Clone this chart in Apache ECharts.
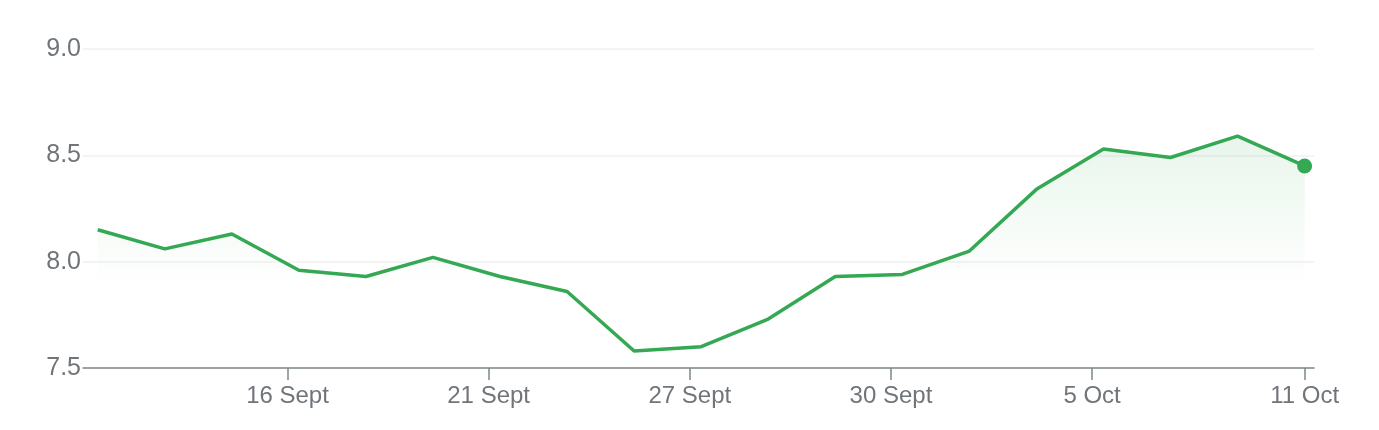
<!DOCTYPE html>
<html>
<head>
<meta charset="utf-8">
<script src="https://cdn.jsdelivr.net/npm/echarts@6/dist/echarts.min.js"></script>
<style>
  html, body { margin: 0; padding: 0; background: #ffffff; }
  #chart { width: 1379px; height: 430px; }
</style>
</head>
<body>
<div id="chart"></div>
<script>
// Price series (one value per sample, evenly spaced along the axis)
const prices = [8.15, 8.06, 8.13, 7.96, 7.93, 8.02, 7.93, 7.86, 7.58, 7.60, 7.73, 7.93, 7.94, 8.05, 8.34, 8.53, 8.49, 8.59, 8.45];
// Date tick labels and where they fall along the sample index axis
const tickLabels = ['16 Sept', '21 Sept', '27 Sept', '30 Sept', '5 Oct', '11 Oct'];
const tickAt = [2.83, 5.83, 8.83, 11.83, 14.83, 18];
// Y axis ticks
const yTicks = [7.5, 8.0, 8.5, 9.0];

const green = '#34a853';
const textColor = '#70757a';
const font = '"Liberation Sans", Arial, Helvetica, sans-serif';

const seriesData = prices.map((v, i) => [i, v]);
const lastIndex = prices.length - 1;

const chart = echarts.init(document.getElementById('chart'), null, { renderer: 'canvas' });
chart.setOption({
  animation: false,
  backgroundColor: '#ffffff',
  grid: { left: 83, right: 65, top: 49, bottom: 62, containLabel: false },
  xAxis: {
    type: 'value',
    min: -0.22,
    max: 18.14,
    axisLine: { show: true, lineStyle: { color: '#80868b', width: 1.5 } },
    axisTick: { show: true, customValues: tickAt, length: 12, lineStyle: { color: '#80868b', width: 1.5 } },
    axisLabel: {
      customValues: tickAt,
      margin: 16,
      color: textColor,
      fontSize: 24,
      fontFamily: font,
      formatter: function (v) {
        let best = 0;
        for (let i = 1; i < tickAt.length; i++) {
          if (Math.abs(tickAt[i] - v) < Math.abs(tickAt[best] - v)) best = i;
        }
        return tickLabels[best];
      }
    },
    splitLine: { show: false }
  },
  yAxis: {
    type: 'value',
    min: yTicks[0],
    max: yTicks[yTicks.length - 1],
    interval: 0.5,
    axisLine: { show: false },
    axisTick: { show: false },
    axisLabel: {
      margin: 2,
      color: textColor,
      fontSize: 25,
      fontFamily: font,
      formatter: v => v.toFixed(1)
    },
    splitLine: { show: true, lineStyle: { color: '#f1f1f1', width: 1.5 } }
  },
  series: [{
    type: 'line',
    data: seriesData,
    showSymbol: true,
    symbol: 'circle',
    symbolSize: function (val, params) { return params.dataIndex === lastIndex ? 15 : 0; },
    itemStyle: { color: green },
    lineStyle: { color: green, width: 3.5 },
    areaStyle: {
      color: new echarts.graphic.LinearGradient(0, 0, 0, 1, [
        { offset: 0, color: 'rgba(52,168,83,0.16)' },
        { offset: 0.65, color: 'rgba(52,168,83,0.0)' },
        { offset: 1, color: 'rgba(52,168,83,0.0)' }
      ])
    },
    emphasis: { disabled: true },
    z: 3
  }]
});
</script>
</body>
</html>
